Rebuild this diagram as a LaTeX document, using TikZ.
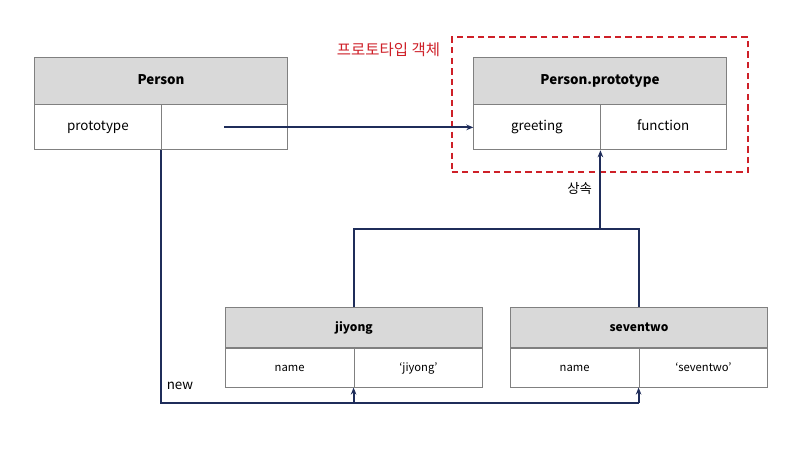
\documentclass[tikz,border=0pt]{standalone}
\usepackage{fontspec}
\setmainfont{Noto Sans CJK KR}
\usepackage{tikz}
\usetikzlibrary{positioning, fit, arrows.meta}

\definecolor{linkblue}{RGB}{31,45,90}
\definecolor{boxgray}{RGB}{128,128,128}
\definecolor{headgray}{RGB}{217,217,217}
\definecolor{protored}{RGB}{206,32,40}

\tikzset{
    head/.style={draw=boxgray, fill=headgray, line width=0.6pt, minimum width=6.31cm, minimum height=1.175cm, text height=7pt, text depth=2pt, font=\fontsize{9.5}{11}\selectfont\bfseries},
    cell/.style={draw=boxgray, line width=0.6pt, minimum width=3.155cm, minimum height=1.125cm, text height=7pt, text depth=2pt, font=\fontsize{9.5}{11}\selectfont},
    smallhead/.style={head, minimum width=6.44cm, minimum height=1cm, font=\fontsize{8.5}{10}\selectfont\bfseries},
    smallcell/.style={cell, minimum width=3.22cm, minimum height=0.97cm, font=\fontsize{8}{10}\selectfont},
    link/.style={draw=linkblue, line width=1.4pt},
    tip/.style={-{Stealth[length=5pt, width=4pt]}},
    frame/.style={draw=protored, line width=1.4pt, dash pattern=on 4.5pt off 3pt, inner xsep=15.5pt, inner ysep=14.6pt},
}

\begin{document}
\begin{tikzpicture}[x=0.025cm, y=-0.025cm]
        \useasboundingbox (0, 0) rectangle (800, 450);

        % constructor
        \node [head] (P) at (161, 80.5) {Person};
        \node [cell, anchor=north west] (Pkey) at (P.south west) {prototype};
        \node [cell, anchor=north east] (Pval) at (P.south east) {};

        % prototype object
        \node [head] (PP) at (600, 80.5) {Person.prototype};
        \node [cell, anchor=north west] (PPkey) at (PP.south west) {greeting};
        \node [cell, anchor=north east] (PPval) at (PP.south east) {function};
        \node [frame, fit=(PP) (PPkey) (PPval), yshift=-1pt] (F) {};
        \node [text=protored, font=\fontsize{11}{13}\selectfont, anchor=east] (FL) at (445, 50) {프로토타입 객체};

        % instances
        \node [smallhead] (J) at (354, 327.5) {jiyong};
        \node [smallcell, anchor=north west] (Jkey) at (J.south west) {name};
        \node [smallcell, anchor=north east] (Jval) at (J.south east) {‘jiyong’};
        \node [smallhead] (S) at (639, 327.5) {seventwo};
        \node [smallcell, anchor=north west] (Skey) at (S.south west) {name};
        \node [smallcell, anchor=north east] (Sval) at (S.south east) {‘seventwo’};

        \draw [link, tip] (Pval.center) -- (PPkey.west);

        % new
        \coordinate [below=11pt of Jval.south west] (newJ);
        \coordinate [below=11pt of Sval.south west] (newS);
        \draw [link] (Pkey.south east) |- (newS);
        \draw [link, tip] (newJ) -- (Jval.south west);
        \draw [link, tip] (newS) -- (Sval.south west);
        \node [font=\fontsize{9.5}{11}\selectfont] (N) at (180, 386) {new};

        % inheritance
        \coordinate [above=55.5pt of J.north] (upJ);
        \coordinate [above=55.5pt of S.north] (upS);
        \draw [link] (J.north) -- (upJ) -- (upS) -- (S.north);
        \draw [link, tip] (PPkey.south east |- upS) -- (PPkey.south east)
            node [midway, left, xshift=-2pt, yshift=1pt, text=black, font=\fontsize{9.5}{11}\selectfont] {상속};
    \end{tikzpicture}
\end{document}
